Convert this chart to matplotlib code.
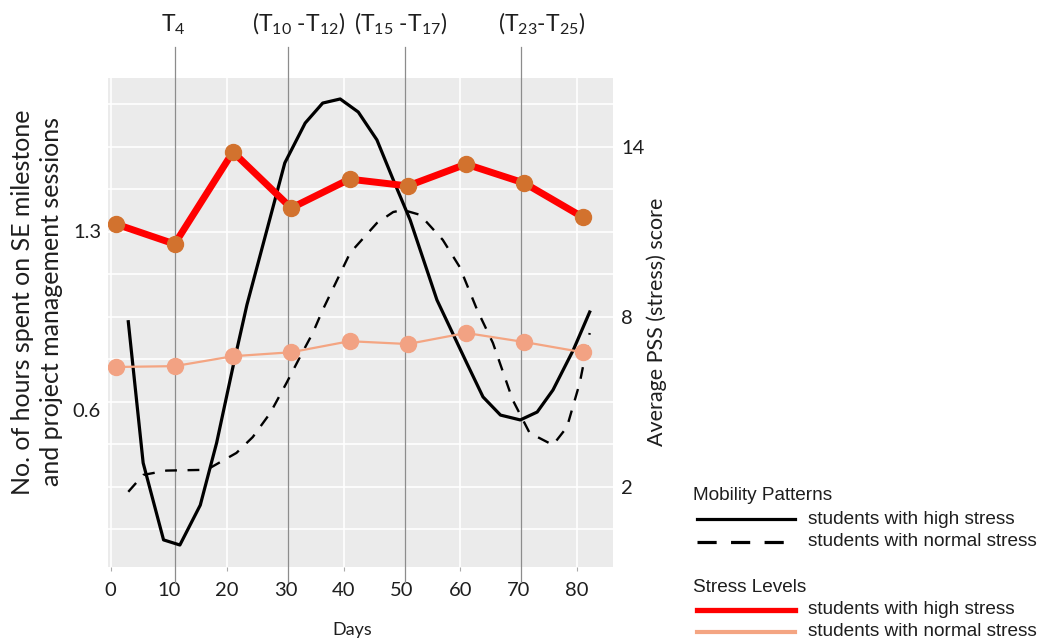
import numpy as np
import matplotlib

matplotlib.use("Agg")
import matplotlib.pyplot as plt
from matplotlib.lines import Line2D

plt.rcParams["font.family"] = ["Lato", "DejaVu Sans"]
plt.rcParams["mathtext.fontset"] = "custom"
plt.rcParams["mathtext.rm"] = "Lato"
plt.rcParams["mathtext.it"] = "Lato"

# stress levels (right axis, average PSS score) at the survey days
stress_days = [1, 11, 21, 31, 41, 51, 61, 71, 81]
stress_high = [11.26, 10.56, 13.81, 11.83, 12.85, 12.61, 13.38, 12.71, 11.51]
stress_normal = [6.22, 6.25, 6.60, 6.74, 7.13, 7.03, 7.42, 7.10, 6.74]

# mobility patterns (left axis, hours) - smoothed curves
mob_high_days = [3.05, 5.6, 9.1, 11.9, 15.4, 18.2, 21.0, 23.4, 29.9, 33.4, 36.4,
                 39.4, 42.5, 45.7, 48.5, 51.4, 56.0, 61.1, 63.9, 66.9, 70.3,
                 73.2, 75.9, 79.4, 82.2]
mob_high = [0.945, 0.393, 0.092, 0.072, 0.228, 0.471, 0.768, 1.011, 1.566,
            1.722, 1.80, 1.816, 1.765, 1.656, 1.50, 1.343, 1.03, 0.784, 0.651,
            0.580, 0.561, 0.592, 0.678, 0.835, 0.983]
mob_normal_days = [3.05, 5.6, 9.6, 16.5, 21.6, 24.4, 27.4, 30.2, 32.5, 34.7,
                   36.4, 41.1, 45.7, 48.5, 50.2, 53.1, 57.0, 59.9, 62.9, 65.6,
                   69.0, 71.9, 75.9, 78.3, 80.5, 82.2]
mob_normal = [0.280, 0.346, 0.363, 0.366, 0.432, 0.494, 0.588, 0.706, 0.807,
              0.901, 0.991, 1.214, 1.331, 1.374, 1.382, 1.363, 1.265, 1.159,
              0.991, 0.862, 0.639, 0.510, 0.463, 0.533, 0.706, 0.901]

marker_days = [11, 30.5, 50.5, 70.5]
marker_labels = [r"T$_{4}$", r"(T$_{10}$ -T$_{12}$)", r"(T$_{15}$ -T$_{17}$)",
                 r"(T$_{23}$-T$_{25}$)"]
marker_label_x = [10.8, 32.2, 49.7, 74.0]

left_ticks = [0.6, 1.3]
right_ticks = [2, 8, 14]
day_major = [0, 20, 40, 60, 80]
day_minor = [10, 30, 50, 70]

PANEL = "#ebebeb"
TXT = "#1e1e1e"
RED = "#ff0000"
RED_DOT = "#d2722e"
SALMON = "#f4a582"
SALMON_DOT = "#f2a283"

fig = plt.figure(figsize=(10.41, 6.39), dpi=100)
ax = fig.add_axes([108 / 1041, 1 - 567 / 639, 505 / 1041, 489 / 639])
ax.set_facecolor(PANEL)
for s in ax.spines.values():
    s.set_visible(False)

h_lim = (-0.014, 1.898)
s_lim = (-0.84, 16.42)
ax.set_xlim(-0.43, 86.2)
ax.set_ylim(*h_lim)

# horizontal grid follows the stress scale
grid_s = np.arange(0.5, 16.0, 1.5)
grid_h = h_lim[0] + (grid_s - s_lim[0]) / (s_lim[1] - s_lim[0]) * (h_lim[1] - h_lim[0])
ax.set_yticks(left_ticks)
ax.set_yticklabels([str(t) for t in left_ticks], fontsize=14.5, color=TXT)
ax.set_yticks(grid_h, minor=True)
ax.tick_params(axis="y", which="both", length=0, pad=5)
ax.grid(axis="y", which="minor", color="white", linewidth=1.2, zorder=0)

ax.set_xticks(day_major)
ax.set_xticklabels([str(d) for d in day_major], fontsize=14.5, color=TXT)
ax.set_xticks(day_minor, minor=True)
ax.set_xticklabels([str(d) for d in day_minor], minor=True, fontsize=14.5, color=TXT)
ax.tick_params(axis="x", which="major", length=3, color="#aaaaaa", pad=8)
ax.tick_params(axis="x", which="minor", length=0, pad=11)
ax.grid(axis="x", which="major", color="white", linewidth=1.2, zorder=0)
ax.set_axisbelow(True)

for d in marker_days:
    ax.axvline(d, ymin=-0.031, ymax=1.063, color="#8c8c8c", linewidth=0.9,
               clip_on=False, zorder=1)

ax.plot(mob_high_days, mob_high, color="black", linewidth=2.3, zorder=3)
ax.plot(mob_normal_days, mob_normal, color="black", linewidth=1.7,
        dashes=(5, 4.5), zorder=3)

ax2 = ax.twinx()
ax2.set_ylim(*s_lim)
for s in ax2.spines.values():
    s.set_visible(False)
ax2.set_yticks(right_ticks)
ax2.set_yticklabels([str(t) for t in right_ticks], fontsize=14.5, color=TXT)
ax2.tick_params(axis="y", length=0, pad=6)

ax2.plot(stress_days, stress_normal, color=SALMON, linewidth=1.6, marker="o",
         markersize=11.5, markerfacecolor=SALMON_DOT, markeredgecolor=SALMON_DOT,
         zorder=4)
ax2.plot(stress_days, stress_high, color=RED, linewidth=5, marker="o",
         markersize=11.5, markerfacecolor=RED_DOT, markeredgecolor=RED_DOT,
         zorder=5)

for x, lab in zip(marker_label_x, marker_labels):
    ax.text(x, 1.11, lab, transform=ax.get_xaxis_transform(), ha="center",
            va="center", fontsize=16.5, color=TXT)

fig.text(37 / 1041, 1 - 302 / 639,
         "No. of hours spent on SE milestone\nand project management sessions",
         rotation=90, ha="center", va="center", fontsize=18, color=TXT,
         multialignment="center", linespacing=1.3)
fig.text(657 / 1041, 1 - 322 / 639, "Average PSS (stress) score", rotation=90,
         ha="center", va="center", fontsize=15.5, color=TXT)
fig.text(352 / 1041, 1 - 630 / 639, "Days", ha="center", va="center",
         fontsize=13, color=TXT)

# hand-drawn style legend block
LEG = ["Liberation Sans", "DejaVu Sans"]
fig.text(693 / 1041, 1 - 496 / 639, "Mobility Patterns", ha="left", va="center",
         fontsize=13.7, color=TXT, family=LEG)
fig.text(693 / 1041, 1 - 588 / 639, "Stress Levels", ha="left", va="center",
         fontsize=13.7, color=TXT, family=LEG)
legend_rows = [
    (519, "black", 2.3, "-", "students with high stress"),
    (542, "black", 2.3, "--", "students with normal stress"),
    (610, RED, 3.8, "-", "students with high stress"),
    (632, SALMON, 3.0, "-", "students with normal stress"),
]
for y, c, lw, ls, lab in legend_rows:
    yy = 1 - y / 639
    ln = Line2D([697 / 1041, 795 / 1041], [yy, yy], transform=fig.transFigure,
                color=c, linewidth=lw, linestyle=ls)
    if ls == "--":
        ln.set_dashes((6, 4.5))
    fig.add_artist(ln)
    fig.text(808 / 1041, yy, lab, ha="left", va="center", fontsize=13.7,
             color=TXT, family=LEG)

fig.savefig("out.png", dpi=100, facecolor="white")
